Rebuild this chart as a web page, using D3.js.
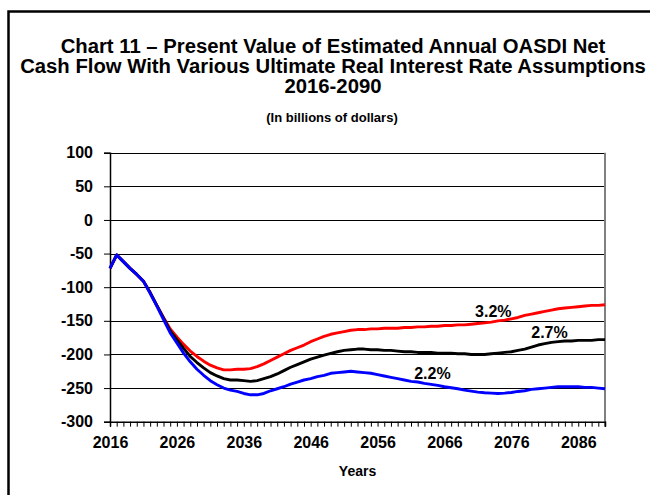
<!DOCTYPE html>
<html><head><meta charset="utf-8">
<script src="https://cdn.jsdelivr.net/npm/d3@7"></script>
<style>
body{margin:0;background:#fff}
svg{display:block}
text{font-family:"Liberation Sans",Arial,Helvetica,sans-serif;font-weight:bold;fill:#000}
</style>
</head><body>
<svg id="chart" width="650" height="495"></svg>
<script>
const years = [2016,2017,2018,2019,2020,2021,2022,2023,2024,2025,
  2026,2027,2028,2029,2030,2031,2032,2033,2034,2035,
  2036,2037,2038,2039,2040,2041,2042,2043,2044,2045,
  2046,2047,2048,2049,2050,2051,2052,2053,2054,2055,
  2056,2057,2058,2059,2060,2061,2062,2063,2064,2065,
  2066,2067,2068,2069,2070,2071,2072,2073,2074,2075,
  2076,2077,2078,2079,2080,2081,2082,2083,2084,2085,
  2086,2087,2088,2089,2090];
const rate32 = [-72,-52,-62,-72,-81,-91,-108,-127,-145,-162,
  -174,-185,-195,-203,-210,-216,-220,-223,-223,-222,
  -222,-221,-218,-214,-209,-204,-199,-194,-190,-186,
  -181,-177,-173,-170,-168,-166,-164,-163,-163,-162,
  -162,-161,-161,-161,-160,-160,-159,-159,-158,-158,
  -157,-157,-156,-156,-155,-154,-153,-152,-150,-149,
  -147,-145,-142,-140,-138,-136,-134,-132,-131,-130,
  -129,-128,-127,-127,-126];
const rate27 = [-72,-52,-62,-72,-81,-91,-108,-127,-146,-165,
  -178,-191,-203,-212,-220,-227,-232,-236,-238,-238,
  -239,-240,-239,-236,-233,-229,-224,-219,-215,-211,
  -207,-204,-201,-198.5,-196,-194,-193,-192,-192,-193,
  -193,-194,-194,-195,-196,-196,-197,-197,-197,-198,
  -198,-198,-199,-199,-200,-200,-200,-199,-198,-197,
  -196,-194,-192,-189,-186,-184,-182,-181,-180,-180,
  -179,-179,-179,-178,-178];
const rate22 = [-72,-52,-62,-72,-81,-91,-109,-128,-148,-168,
  -183,-198,-211,-222,-231,-239,-245,-250,-253,-255,
  -258,-260,-260,-258,-254,-251,-248,-244,-241,-238,
  -236,-233,-231,-228,-227,-226,-225,-226,-227,-228,
  -230,-232,-234,-236,-238,-240,-241,-243,-244.5,-246,
  -248,-249.5,-251,-253,-254.5,-256,-257,-257.5,-258,-257.5,
  -256.5,-255,-254,-252,-251,-250,-249,-248,-248,-248,
  -248,-249,-249,-250,-251];
const seriesNames = ["3.2%","2.7%","2.2%"];
const seriesColors = ["#ff0000","#000000","#0000ff"];
const yTickValues = [100,50,0,-50,-100,-150,-200,-250,-300];
const xTickLabels = [2016,2026,2036,2046,2056,2066,2076,2086];
const titleLines = ["Chart 11 \u2013 Present Value of Estimated Annual OASDI Net",
  "Cash Flow With Various Ultimate Real Interest Rate Assumptions",
  "2016-2090"];
const subtitle = "(In billions of dollars)";
const xAxisTitle = "Years";

const svg = d3.select("#chart");
const x = d3.scaleLinear().domain([2016,2090]).range([110,605]);
const y = d3.scaleLinear().domain([-300,100]).range([421.7,152.7]);

// outer border
svg.append("rect").attr("x",8.5).attr("y",11.5).attr("width",700).attr("height",600)
  .attr("fill","none").attr("stroke","#000").attr("stroke-width",2.5);

// titles
const cx = 333;
const tBase = [53.3,73.3,93.3];
titleLines.forEach((t,i)=>{
  svg.append("text").attr("x",cx).attr("y",tBase[i]).attr("text-anchor","middle")
    .style("font-size","20.3px").text(t);
});
svg.append("text").attr("x",332).attr("y",122).attr("text-anchor","middle")
  .style("font-size","13px").text(subtitle);

// gridlines
svg.append("g").selectAll("line").data(yTickValues.filter(v=>v>-300)).join("line")
  .attr("x1",x(2016)).attr("x2",x(2090))
  .attr("y1",d=>Math.round(y(d))+0.5).attr("y2",d=>Math.round(y(d))+0.5)
  .attr("stroke","#000").attr("stroke-width",1);

// right border
svg.append("line").attr("x1",605).attr("x2",605).attr("y1",y(100)).attr("y2",y(-300)+5)
  .attr("stroke","#808080").attr("stroke-width",2);

// y axis
const yAxis = d3.axisLeft(y).tickValues(yTickValues).tickSize(6).tickPadding(11).tickFormat(d=>String(d));
const gy = svg.append("g").attr("transform",`translate(${x(2016)},0)`).call(yAxis);
gy.select(".domain").attr("stroke","#000").attr("stroke-width",1.5);
gy.selectAll(".tick line").attr("stroke","#000");
gy.selectAll("text").style("font-size","16px").style("font-family",'"Liberation Sans",Arial,sans-serif').style("font-weight","bold");

// x axis: minor ticks each year, labels every 10
const xAxis = d3.axisBottom(x).tickValues(years).tickSize(5).tickPadding(10)
  .tickFormat(d=>xTickLabels.includes(d)?String(d):"");
const gx = svg.append("g").attr("transform",`translate(0,${y(-300)})`).call(xAxis);
gx.select(".domain").attr("stroke","#000").attr("stroke-width",1.5);
gx.selectAll(".tick line").attr("stroke","#000");
gx.selectAll("text").style("font-size","16px").style("font-family",'"Liberation Sans",Arial,sans-serif').style("font-weight","bold");

svg.append("text").attr("x",(x(2016)+x(2090))/2).attr("y",476).attr("text-anchor","middle")
  .style("font-size","14px").text(xAxisTitle);

// lines
const line = d3.line().x((d,i)=>x(years[i])).y(d=>y(d)).curve(d3.curveLinear);
[rate32,rate27,rate22].forEach((s,i)=>{
  svg.append("path").datum(s).attr("d",line).attr("fill","none")
    .attr("stroke",seriesColors[i]).attr("stroke-width",2.9).attr("stroke-linejoin","round");
});

// series labels
const labelPos = [[2073.3,-144.6],[2081.7,-175.9],[2064.2,-236.4]];
seriesNames.forEach((n,i)=>{
  svg.append("text").attr("x",x(labelPos[i][0])).attr("y",y(labelPos[i][1]))
    .attr("text-anchor","middle").style("font-size","16px").text(n);
});
</script>
</body></html>
